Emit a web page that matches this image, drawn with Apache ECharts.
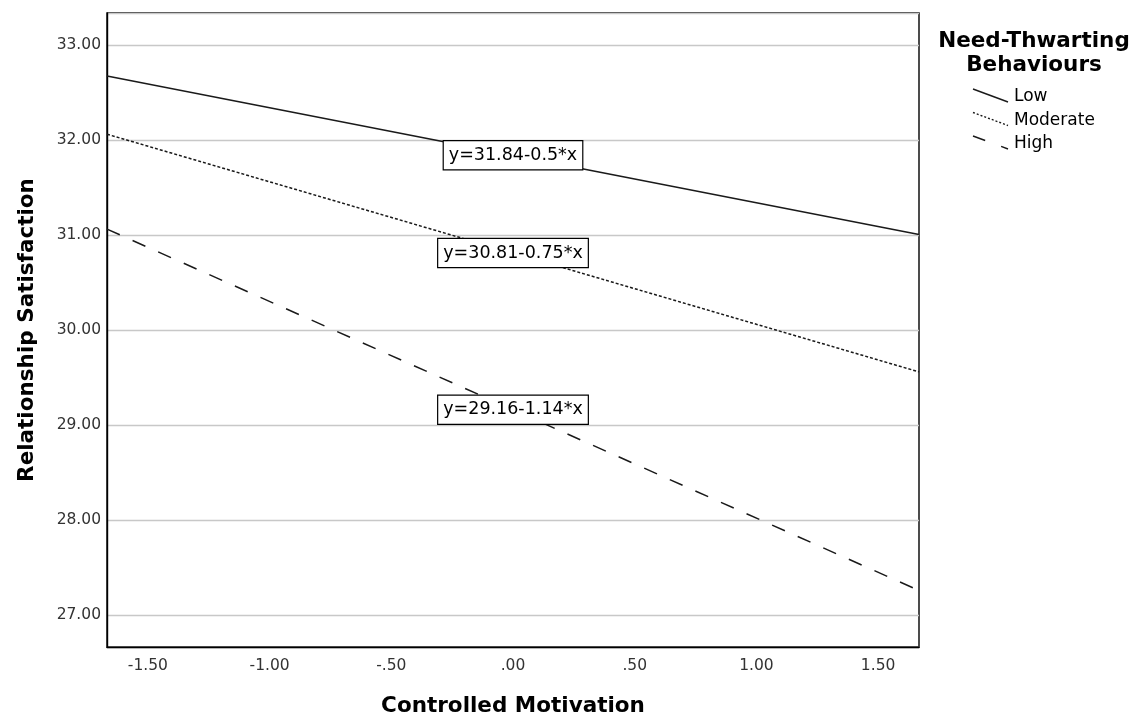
<!DOCTYPE html>
<html>
<head>
<meta charset="utf-8">
<script src="https://cdn.jsdelivr.net/npm/echarts@6/dist/echarts.min.js"></script>
<style>html,body{margin:0;padding:0;background:#fff;}#c{width:1138px;height:717px;}</style>
</head>
<body>
<div id="c"></div>
<script>
// Data
var seriesNames = ['Low', 'Moderate', 'High'];
var xEnds = [-1.668, 1.668];
var lowValues = [32.674, 31.006];
var moderateValues = [32.061, 29.559];
var highValues = [31.062, 27.258];
var equations = ['y=31.84-0.5*x', 'y=30.81-0.75*x', 'y=29.16-1.14*x'];
var intercepts = [31.84, 30.81, 29.16];
var xTicks = [-1.5, -1.0, -0.5, 0, 0.5, 1.0, 1.5];
var yTicks = [27, 28, 29, 30, 31, 32, 33];

var FONT = 'DejaVu Sans';
var chart = echarts.init(document.getElementById('c'), null, {renderer: 'canvas'});

function fmtX(v) {
  var s = Math.abs(v).toFixed(2);
  if (s.charAt(0) === '0') s = s.substring(1);
  return (v < 0 ? '-' : '') + s;
}

var allValues = [lowValues, moderateValues, highValues];
var dashes = ['solid', [3, 2], [14, 14]];
var legendDashes = [null, [2, 2], [13, 17]];

var series = seriesNames.map(function (name, i) {
  return {
    name: name,
    type: 'line',
    data: xEnds.map(function (x, j) { return [x, allValues[i][j]]; }),
    symbol: 'none',
    silent: true,
    lineStyle: {color: '#1a1a1a', width: 1.5, type: dashes[i]},
    markPoint: {
      symbol: 'rect',
      symbolSize: 1,
      itemStyle: {color: 'transparent'},
      data: [{
        coord: [0, intercepts[i]],
        label: {
          show: true,
          position: 'inside',
          formatter: equations[i],
          fontFamily: FONT,
          fontSize: 17.5,
          lineHeight: 19,
          color: '#000',
          backgroundColor: '#fff',
          borderColor: '#000',
          borderWidth: 1.2,
          padding: [5, 5, 4, 5]
        }
      }]
    },
    z: 3
  };
});

// legend drawn as graphics (diagonal line samples like the reference)
var legendGraphics = [{
  type: 'text',
  x: 1034, y: 29,
  style: {
    text: 'Need-Thwarting\nBehaviours',
    font: 'bold 21.5px "' + FONT + '"',
    fill: '#000',
    align: 'center',
    verticalAlign: 'top',
    lineHeight: 24
  }
}];
seriesNames.forEach(function (name, i) {
  var y0 = 89 + i * 23.5;
  legendGraphics.push({
    type: 'line',
    shape: {x1: 973, y1: y0, x2: 1008, y2: y0 + 13},
    style: {stroke: '#1a1a1a', lineWidth: 1.4, lineDash: legendDashes[i]}
  });
  legendGraphics.push({
    type: 'text',
    x: 1014, y: y0 + 8,
    style: {text: name, font: '17px "' + FONT + '"', fill: '#000', verticalAlign: 'middle'}
  });
});

chart.setOption({
  animation: false,
  backgroundColor: '#fff',
  grid: {left: 107, top: 13, width: 812, height: 634, containLabel: false, outerBoundsMode: 'none',
         show: true, borderColor: '#000', borderWidth: 1.4, backgroundColor: 'transparent'},
  xAxis: {
    type: 'value',
    min: xEnds[0], max: xEnds[1],
    name: 'Controlled Motivation',
    nameLocation: 'middle',
    nameGap: 48,
    nameTextStyle: {fontFamily: FONT, fontSize: 21.5, fontWeight: 'bold', color: '#000'},
    axisLine: {show: true, onZero: false, lineStyle: {color: '#000', width: 1.4}},
    axisTick: {show: false},
    splitLine: {show: false},
    axisLabel: {
      fontFamily: FONT, fontSize: 15.5, color: '#333', margin: 11,
      customValues: xTicks,
      formatter: function (v) { return fmtX(v); }
    }
  },
  yAxis: {
    type: 'value',
    min: 26.663, max: 33.337,
    name: 'Relationship Satisfaction',
    nameLocation: 'middle',
    nameGap: 69,
    nameTextStyle: {fontFamily: FONT, fontSize: 21.5, fontWeight: 'bold', color: '#000'},
    axisLine: {show: true, onZero: false, lineStyle: {color: '#000', width: 1.4}},
    axisTick: {show: false},
    splitLine: {show: true, lineStyle: {color: '#c8c8c8', width: 1.3}},
    axisLabel: {
      fontFamily: FONT, fontSize: 15.5, color: '#333', margin: 6,
      customValues: yTicks,
      formatter: function (v) { return v.toFixed(2); }
    }
  },
  series: series,
  graphic: legendGraphics
});
</script>
</body>
</html>
